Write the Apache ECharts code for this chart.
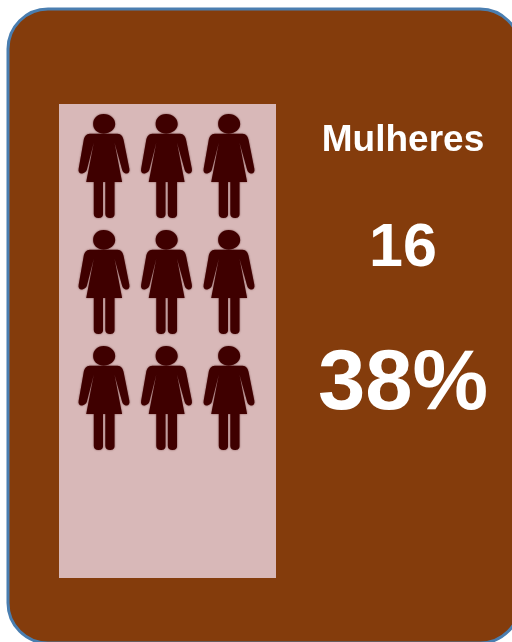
<!DOCTYPE html>
<html><head><meta charset="utf-8">
<style>html,body{margin:0;padding:0;background:#fff}#c{width:512px;height:642px}</style>
<script src="https://cdn.jsdelivr.net/npm/echarts@6/dist/echarts.min.js"></script>
</head><body><div id="c"></div>
<script>
const columns = [1, 2, 3];
const rows = [1, 2, 3];
const groupLabel = 'Mulheres';
const countLabel = '16';
const shareLabel = '38%';
const womanPath = 'path://M130 42C150 42 165 55 165 72C165 88 150 100 130 100C110 100 98 88 98 72C98 55 110 42 130 42Z' +
 'M88 101L172 101C183 101 189 110 191 122L208 205C210 215 205 220 197 219C192 218 188 214 186 208L163 128L186 245L163 245L163 340C163 350 155 352 149 352C141 352 135 348 135 340L135 245L128 245L128 340C128 350 120 352 114 352C106 352 100 348 100 340L100 245L77 245L100 128L79 208C77 214 70 218 65 219C57 220 52 215 54 205L69 122C71 110 77 101 88 101Z';
const points = [];
rows.forEach(r => columns.forEach(c => points.push([c, r])));
const font = '"Liberation Sans", Arial, sans-serif';
const chart = echarts.init(document.getElementById('c'), null, {renderer:'canvas'});
chart.setOption({
  animation:false,
  backgroundColor:'#ffffff',
  grid:{left:59, top:104, width:217, height:474, show:true, backgroundColor:'#d8b8b8', borderWidth:0, z:2},
  xAxis:{type:'value', min:0.28, max:3.752, show:false},
  yAxis:{type:'value', min:0.4655, max:4.5517, inverse:true, show:false},
  series:[{type:'scatter', data:points, symbol:womanPath, symbolSize:[51,104], z:3,
    itemStyle:{color:'#3f0000', opacity:1, shadowBlur:2, shadowColor:'rgba(63,0,0,0.6)'}, silent:true}],
  graphic:[
    {type:'rect', z:-1, shape:{x:8, y:9, width:512, height:634, r:40},
     style:{fill:'#843c0c', stroke:'#4a7eb0', lineWidth:3}},
    {type:'text', z:5, x:403, y:141, style:{text:groupLabel, fill:'#fff', font:`bold 37px ${font}`, align:'center', verticalAlign:'middle'}},
    {type:'text', z:5, x:403, y:249, style:{text:countLabel, fill:'#fff', font:`bold 61px ${font}`, align:'center', verticalAlign:'middle'}},
    {type:'text', z:5, x:403, y:386, style:{text:shareLabel, fill:'#fff', font:`bold 85px ${font}`, align:'center', verticalAlign:'middle'}}
  ]
});
</script></body></html>
